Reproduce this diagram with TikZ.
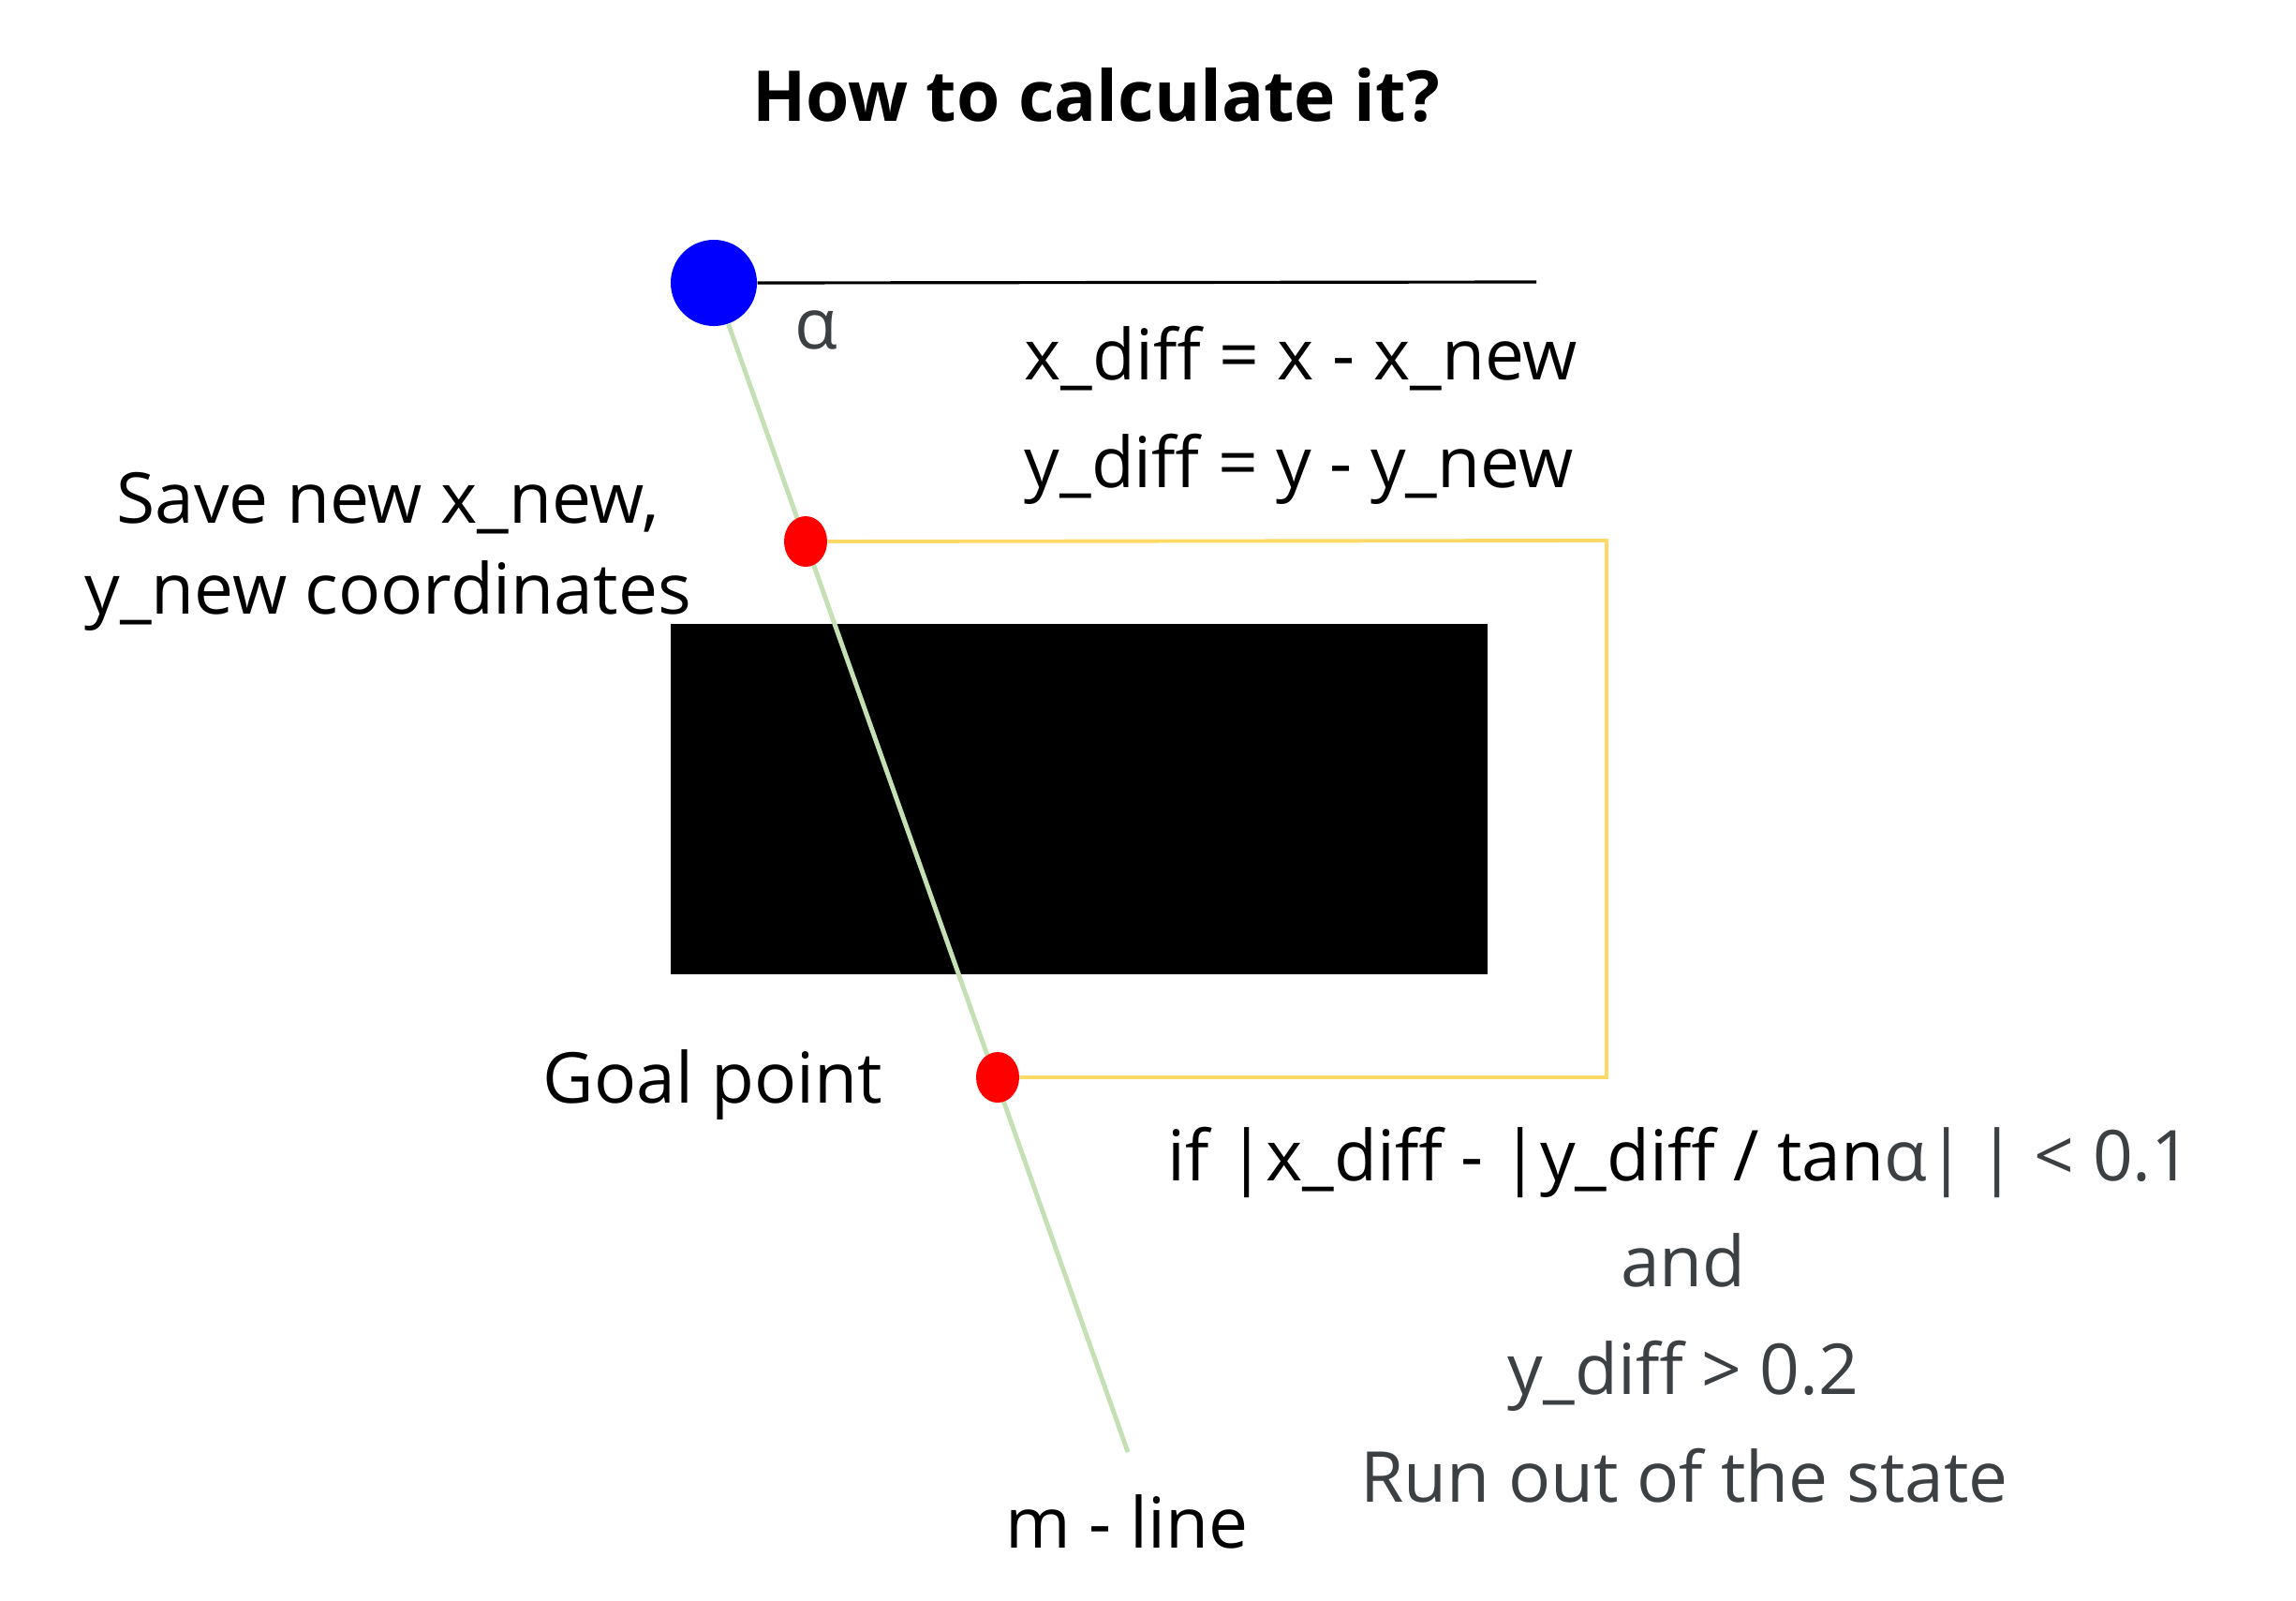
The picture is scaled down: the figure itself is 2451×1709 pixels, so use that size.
\documentclass[tikz,border=0pt]{standalone}
\usepackage{fontspec}
\setmainfont{Open Sans}
\usetikzlibrary{shapes.geometric}

\definecolor{mlinegreen}{RGB}{197,224,180}
\definecolor{pathyellow}{RGB}{255,217,102}
\definecolor{textgray}{RGB}{60,64,67}

\tikzset{
	plaintext/.style={inner sep=0pt, font=\fontsize{21.3}{26}\selectfont},
	titletext/.style={inner sep=0pt, font=\fontsize{21.3}{25}\selectfont\bfseries},
	reddot/.style={ellipse, fill=red, inner sep=0pt, minimum width=0.46cm, minimum height=0.54cm},
}

\begin{document}
\begin{tikzpicture}[x=0.01cm, y=-0.01cm]
			
			\useasboundingbox (0,0) rectangle (2451,1709);
			
			% title
			\node[titletext, anchor=base] (title) at (1170,129) {How to calculate it?};
			
			% obstacle
			\fill[black] (716,666) rectangle (1588,1040);
			
			% start point and reference line
			\node[circle, fill=blue, inner sep=0pt, minimum size=0.92cm] (start) at (762,302) {};
			\coordinate (refend) at (1640,301);
			\draw[line width=0.9pt] (start.east) -- (refend);
			\node[plaintext, text=textgray] (alpha) at (871,352) {α};
			
			% m-line
			\coordinate (mend) at (1204,1550);
			\draw[mlinegreen, line width=1.4pt] (start) -- (mend);
			\node[plaintext, anchor=base] (mlabel) at (1203,1652) {m - line};
			
			% hit point and goal point
			\node[reddot] (hit) at (860,578) {};
			\node[reddot] (goal) at (1065,1150) {};
			\coordinate (corner) at (1715,577);
			\draw[pathyellow, line width=1.1pt] (hit) -- (corner) |- (goal);
			
			% labels
			\node[plaintext, anchor=base] (save1) at (414,558) {Save new x\_new,};
			\node[plaintext, anchor=base] (save2) at (414,655) {y\_new coordinates};
			\node[plaintext, anchor=base] (goallabel) at (761,1177) {Goal point};
			\node[plaintext, anchor=base west] (xdiff) at (1093,405) {x\_diff = x - x\_new};
			\node[plaintext, anchor=base west] (ydiff) at (1093,520) {y\_diff = y - y\_new};
			
			% leaving condition
			\node[plaintext, anchor=base] (cond1) at (1793,1260) {if |x\_diff - |y\_diff / tan{\color{textgray}α|\,| < 0.1}};
			\node[plaintext, anchor=base, text=textgray] (cond2) at (1797,1373) {and};
			\node[plaintext, anchor=base, text=textgray] (cond3) at (1797,1488) {y\_diff > 0.2};
			\node[plaintext, anchor=base, text=textgray] (cond4) at (1798,1603) {Run out of the state};
			
		\end{tikzpicture}
\end{document}
